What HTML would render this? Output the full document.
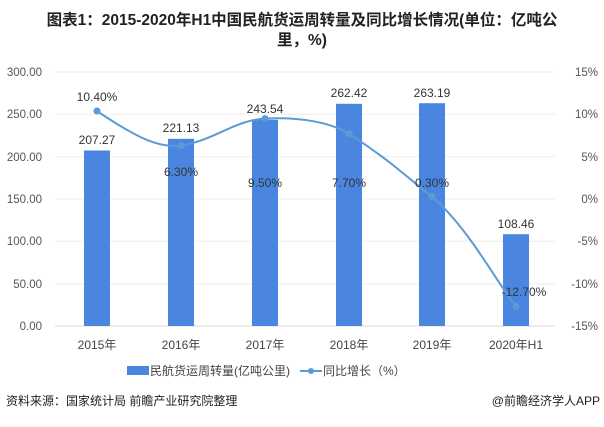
<!DOCTYPE html>
<html><head><meta charset="utf-8"><style>
body{margin:0;background:#fff;width:604px;height:422px;overflow:hidden}
svg text{font-family:"Liberation Sans","Noto Sans CJK SC",sans-serif}
</style></head><body>
<svg width="604" height="422" xmlns="http://www.w3.org/2000/svg">
<text x="302" y="25" text-anchor="middle" font-size="15.5" font-weight="bold" fill="#222">图表1：2015-2020年H1中国民航货运周转量及同比增长情况(单位：亿吨公</text>
<text x="302" y="45" text-anchor="middle" font-size="15.5" font-weight="bold" fill="#222">里，%)</text>
<g stroke="#eeeeee" stroke-width="1">
<line x1="55" x2="555" y1="72" y2="72"/><line x1="55" x2="555" y1="114.3" y2="114.3"/>
<line x1="55" x2="555" y1="156.7" y2="156.7"/><line x1="55" x2="555" y1="199" y2="199"/>
<line x1="55" x2="555" y1="241.3" y2="241.3"/><line x1="55" x2="555" y1="283.7" y2="283.7"/>
</g>
<line x1="55" x2="555" y1="326" y2="326" stroke="#d9d9d9"/>
<g font-size="11.5" fill="#555" text-anchor="end">
<text x="42" y="76">300.00</text><text x="42" y="118">250.00</text><text x="42" y="161">200.00</text>
<text x="42" y="203">150.00</text><text x="42" y="245">100.00</text><text x="42" y="288">50.00</text><text x="42" y="330">0.00</text>
</g>
<g font-size="11.5" fill="#555" text-anchor="end">
<text x="598" y="76">15%</text><text x="598" y="118">10%</text><text x="598" y="161">5%</text>
<text x="598" y="203">0%</text><text x="598" y="245">-5%</text><text x="598" y="288">-10%</text><text x="598" y="330">-15%</text>
</g>
<g fill="#4a86e0">
<rect x="84" y="150.5" width="26" height="175.5"/>
<rect x="168" y="138.8" width="26" height="187.2"/>
<rect x="252" y="119.8" width="26" height="206.2"/>
<rect x="336" y="103.8" width="26" height="222.2"/>
<rect x="419" y="103.2" width="26" height="222.8"/>
<rect x="503" y="234.2" width="26" height="91.8"/>
</g>
<g font-size="12" fill="#333" text-anchor="middle">
<text x="97" y="144">207.27</text><text x="181" y="132">221.13</text><text x="265" y="113">243.54</text>
<text x="349" y="97">262.42</text><text x="432" y="97">263.19</text><text x="516" y="228">108.46</text>
</g>
<path d="M97,111 C140,140 160,148 181,145.7 C215,140 235,120 265,118.6 C300,117 330,122 349,133.8 C390,160 410,180 432,196.5 C470,230 495,280 516,306.5" fill="none" stroke="#5b9bd5" stroke-width="2"/>
<g fill="#5b9bd5">
<circle cx="97" cy="111" r="3.5"/><circle cx="181" cy="145.7" r="3.5"/><circle cx="265" cy="118.6" r="3.5"/>
<circle cx="349" cy="133.8" r="3.5"/><circle cx="432" cy="196.5" r="3.5"/><circle cx="516" cy="306.5" r="3.5"/>
</g>
<g font-size="12" fill="#333" text-anchor="middle">
<text x="97" y="101">10.40%</text><text x="181" y="176">6.30%</text><text x="265" y="187">9.50%</text>
<text x="349" y="187">7.70%</text><text x="432" y="187">0.30%</text><text x="524" y="296">-12.70%</text>
</g>
<g font-size="12" fill="#444" text-anchor="middle">
<text x="97" y="349">2015年</text><text x="181" y="349">2016年</text><text x="265" y="349">2017年</text>
<text x="349" y="349">2018年</text><text x="432" y="349">2019年</text><text x="516" y="349">2020年H1</text>
</g>
<rect x="127" y="366" width="22" height="9" fill="#4a86e0"/>
<text x="150" y="375" font-size="12" fill="#444">民航货运周转量(亿吨公里)</text>
<line x1="300" x2="322" y1="371" y2="371" stroke="#5b9bd5" stroke-width="2"/>
<circle cx="311" cy="371" r="3" fill="#5b9bd5"/>
<text x="323" y="375" font-size="12" fill="#444">同比增长（%）</text>
<text x="6" y="405" font-size="12" fill="#222">资料来源：国家统计局 前瞻产业研究院整理</text>
<text x="600" y="405" font-size="12" fill="#222" text-anchor="end">@前瞻经济学人APP</text>
</svg>
</body></html>
